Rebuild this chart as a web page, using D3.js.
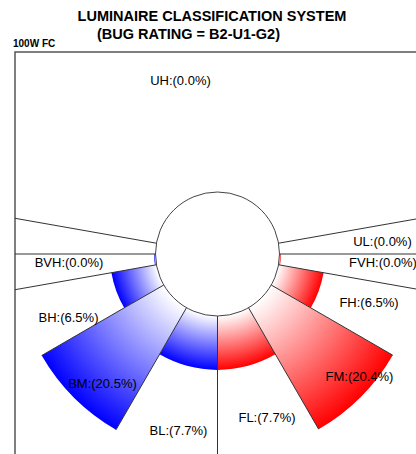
<!DOCTYPE html>
<html>
<head>
<meta charset="utf-8">
<script src="https://cdn.jsdelivr.net/npm/d3@7"></script>
<style>
  html, body { margin: 0; padding: 0; background: #fff; }
  svg { display: block; font-family: "Liberation Sans", Arial, sans-serif; }
</style>
</head>
<body>
<div id="chart"></div>
<script>
// BUG rating polar chart: each zone is a wedge whose length is its lumen share.

// ── Data ─────────────────────────────────────────────────────────────────────
var zoneNames  = ["BL", "BM", "BH", "BVH", "FL", "FM", "FH", "FVH", "UL", "UH"];
var zoneValues = [7.7, 20.5, 6.5, 0.0, 7.7, 20.4, 6.5, 0.0, 0.0, 0.0];
// angle from nadir (degrees), side: -1 back (left), +1 front (right), 0 both
var zoneFrom   = [0, 30, 60, 80, 0, 30, 60, 80, 90, 100];
var zoneTo     = [30, 60, 80, 90, 30, 60, 80, 90, 100, 180];
var zoneSide   = [-1, -1, -1, -1, 1, 1, 1, 1, 0, 0];

var titleLines = ["LUMINAIRE CLASSIFICATION SYSTEM", "(BUG RATING = B2-U1-G2)"];
var subLabel   = "100W FC";

// ── Layout ───────────────────────────────────────────────────────────────────
var W = 416, H = 454;
var cx = 217.5, cy = 254;
var innerR = 62;
var frame = { x: 15, y: 52, w: 430, h: 430 };
// label anchor offsets from centre (text middle, baseline)
var labelOffset = {
  UH: [-37, -169], UL: [165, -8], FVH: [165.5, 13], FH: [151.5, 53],
  FM: [142, 127], FL: [49.5, 168], BL: [-39, 181], BM: [-115, 134],
  BH: [-149, 68], BVH: [-148.5, 13]
};

var zones = zoneNames.map(function (n, i) {
  return { name: n, value: zoneValues[i], from: zoneFrom[i], to: zoneTo[i], side: zoneSide[i] };
});

var rScale = d3.scaleLinear().domain([0, 20.5]).range([innerR + 1.5, 203]);

// nadir angle -> d3 arc angle (0 = up, clockwise)
function arcAngle(deg, side) {
  return (180 - side * deg) * Math.PI / 180;
}
function polar(deg, side, r) {
  var a = arcAngle(deg, side);
  return [cx + r * Math.sin(a), cy - r * Math.cos(a)];
}

var svg = d3.select("#chart").append("svg")
  .attr("width", W).attr("height", H);

var defs = svg.append("defs");
defs.append("clipPath").attr("id", "frameClip")
  .append("rect")
  .attr("x", frame.x).attr("y", frame.y)
  .attr("width", frame.w).attr("height", frame.h);

// ── Titles ───────────────────────────────────────────────────────────────────
svg.append("text")
  .attr("x", 212).attr("y", 21)
  .attr("text-anchor", "middle")
  .attr("font-size", 14.5).attr("font-weight", "bold")
  .text(titleLines[0]);
svg.append("text")
  .attr("x", 188.5).attr("y", 38.5)
  .attr("text-anchor", "middle")
  .attr("font-size", 14.5).attr("font-weight", "bold")
  .text(titleLines[1]);
svg.append("text")
  .attr("x", 13).attr("y", 47)
  .attr("font-size", 10).attr("font-weight", "bold")
  .text(subLabel);

// ── Frame ────────────────────────────────────────────────────────────────────
svg.append("rect")
  .attr("x", frame.x).attr("y", frame.y)
  .attr("width", frame.w).attr("height", frame.h)
  .attr("fill", "none").attr("stroke", "#555").attr("stroke-width", 1.5);

var plot = svg.append("g").attr("clip-path", "url(#frameClip)");

// ── Wedges ───────────────────────────────────────────────────────────────────
var arc = d3.arc();
var lit = zones.filter(function (z) { return z.side !== 0; });

// gradients live in the wedge's own (translated) space, so centre is 0,0
lit.forEach(function (z, i) {
  var outer = rScale(z.value);
  var g = defs.append("radialGradient")
    .attr("id", "grad" + i)
    .attr("gradientUnits", "userSpaceOnUse")
    .attr("cx", 0).attr("cy", 0).attr("fx", 0).attr("fy", 0)
    .attr("r", outer);
  var col = z.side < 0 ? "#0000ff" : "#ff0000";
  g.append("stop").attr("offset", innerR / outer).attr("stop-color", "#fff");
  g.append("stop").attr("offset", 1).attr("stop-color", col);
  z.grad = "url(#grad" + i + ")";
  z.outer = outer;
});

plot.selectAll("path.wedge")
  .data(lit)
  .join("path")
  .attr("class", "wedge")
  .attr("transform", "translate(" + cx + "," + cy + ")")
  .attr("d", function (z) {
    var a0 = arcAngle(z.from, z.side), a1 = arcAngle(z.to, z.side);
    return arc({
      innerRadius: innerR - 1, outerRadius: z.outer,
      startAngle: Math.min(a0, a1), endAngle: Math.max(a0, a1)
    });
  })
  .attr("fill", function (z) { return z.grad; });

// ── Zone boundary lines ──────────────────────────────────────────────────────
function outerAt(deg, side) {
  var r = innerR;
  lit.forEach(function (z) {
    if (z.side === side && (z.from === deg || z.to === deg)) r = Math.max(r, z.outer);
  });
  return r;
}
var bounds = [];
[-1, 1].forEach(function (side) {
  [30, 60].forEach(function (d) { bounds.push({ deg: d, side: side, r: outerAt(d, side) }); });
  [80, 90, 100].forEach(function (d) { bounds.push({ deg: d, side: side, r: 600 }); });
});
bounds.push({ deg: 0, side: 1, r: 600 });

plot.selectAll("line.bound")
  .data(bounds)
  .join("line")
  .attr("class", "bound")
  .attr("x1", function (b) { return polar(b.deg, b.side, innerR)[0]; })
  .attr("y1", function (b) { return polar(b.deg, b.side, innerR)[1]; })
  .attr("x2", function (b) { return polar(b.deg, b.side, b.r)[0]; })
  .attr("y2", function (b) { return polar(b.deg, b.side, b.r)[1]; })
  .attr("stroke", "#333").attr("stroke-width", 1);

// ── Centre circle ────────────────────────────────────────────────────────────
plot.append("circle")
  .attr("cx", cx).attr("cy", cy).attr("r", innerR)
  .attr("fill", "#fff").attr("stroke", "#444").attr("stroke-width", 1);

// ── Labels ───────────────────────────────────────────────────────────────────
svg.selectAll("text.zone")
  .data(zones)
  .join("text")
  .attr("class", "zone")
  .attr("x", function (z) { return cx + labelOffset[z.name][0]; })
  .attr("y", function (z) { return cy + labelOffset[z.name][1]; })
  .attr("text-anchor", "middle")
  .attr("font-size", 13)
  .attr("fill", "#000")
  .text(function (z) { return z.name + ":(" + z.value.toFixed(1) + "%)"; });
</script>
</body>
</html>
